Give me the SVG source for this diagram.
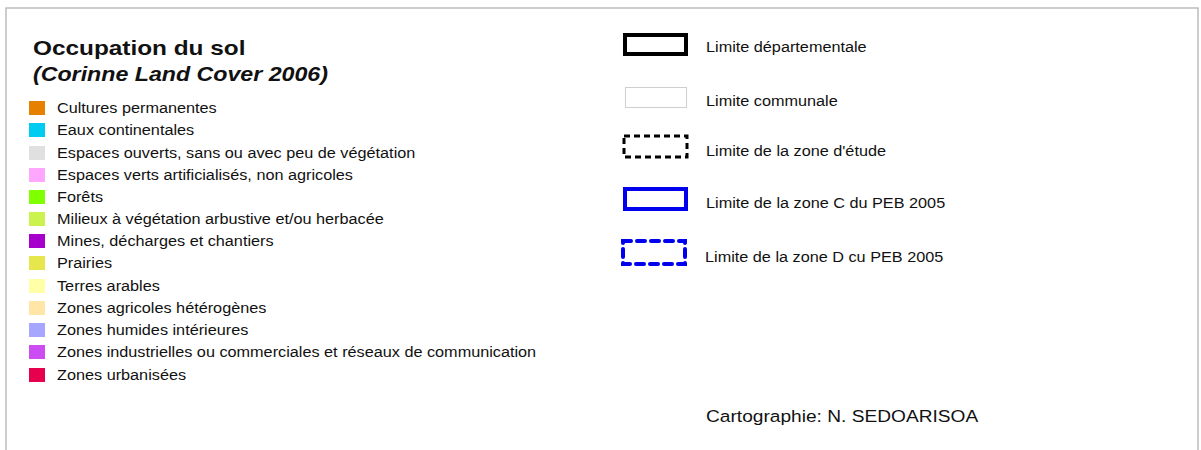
<svg xmlns="http://www.w3.org/2000/svg" width="1201" height="450" viewBox="0 0 1201 450">
<style>
text{font-family:"Liberation Sans",Arial,sans-serif;fill:#111}
.it{font-size:14px}
.lg{font-size:14px}
.sw{stroke:none}
</style>
<rect x="0" y="0" width="1201" height="450" fill="#fff"/>
<rect x="6" y="8" width="1192" height="460" fill="#fff" stroke="#bdbdbd" stroke-width="1.5"/>
<g id="title">
<text transform="matrix(1.16,0,0,1,33,55)" style="font-size:21px;font-weight:bold">Occupation du sol</text>
<text transform="matrix(1.16,0,0,1,33,81)" style="font-size:20px;font-weight:bold;font-style:italic">(Corinne Land Cover 2006)</text>
</g>
<g id="landcover">
<g id="lc1"><rect class="sw" x="29" y="101" width="16" height="14" fill="#e68000"/><text class="it" transform="matrix(1.16,0,0,1,57,113)">Cultures permanentes</text></g>
<g id="lc2"><rect class="sw" x="29" y="123" width="16" height="14" fill="#00ccf2"/><text class="it" transform="matrix(1.16,0,0,1,57,135)">Eaux continentales</text></g>
<g id="lc3"><rect class="sw" x="29" y="146" width="16" height="14" fill="#e0e0e0"/><text class="it" transform="matrix(1.16,0,0,1,57,158)">Espaces ouverts, sans ou avec peu de végétation</text></g>
<g id="lc4"><rect class="sw" x="29" y="168" width="16" height="14" fill="#ffa6ff"/><text class="it" transform="matrix(1.16,0,0,1,57,180)">Espaces verts artificialisés, non agricoles</text></g>
<g id="lc5"><rect class="sw" x="29" y="190" width="16" height="14" fill="#80ff00"/><text class="it" transform="matrix(1.16,0,0,1,57,202)">Forêts</text></g>
<g id="lc6"><rect class="sw" x="29" y="212" width="16" height="14" fill="#ccf24d"/><text class="it" transform="matrix(1.16,0,0,1,57,224)">Milieux à végétation arbustive et/ou herbacée</text></g>
<g id="lc7"><rect class="sw" x="29" y="234" width="16" height="14" fill="#a600cc"/><text class="it" transform="matrix(1.16,0,0,1,57,246)">Mines, décharges et chantiers</text></g>
<g id="lc8"><rect class="sw" x="29" y="256" width="16" height="14" fill="#e6e64d"/><text class="it" transform="matrix(1.16,0,0,1,57,268)">Prairies</text></g>
<g id="lc9"><rect class="sw" x="29" y="279" width="16" height="14" fill="#ffffa8"/><text class="it" transform="matrix(1.16,0,0,1,57,291)">Terres arables</text></g>
<g id="lc10"><rect class="sw" x="29" y="301" width="16" height="14" fill="#ffe6a6"/><text class="it" transform="matrix(1.16,0,0,1,57,313)">Zones agricoles hétérogènes</text></g>
<g id="lc11"><rect class="sw" x="29" y="323" width="16" height="14" fill="#a6a6ff"/><text class="it" transform="matrix(1.16,0,0,1,57,335)">Zones humides intérieures</text></g>
<g id="lc12"><rect class="sw" x="29" y="345" width="16" height="14" fill="#cc4df2"/><text class="it" transform="matrix(1.16,0,0,1,57,357)">Zones industrielles ou commerciales et réseaux de communication</text></g>
<g id="lc13"><rect class="sw" x="29" y="368" width="16" height="14" fill="#e6004d"/><text class="it" transform="matrix(1.16,0,0,1,57,380)">Zones urbanisées</text></g>
</g>
<g id="limits">
<g id="lim1"><rect x="625" y="35" width="61" height="19" fill="none" stroke="#000" stroke-width="4"/><text class="lg" transform="matrix(1.16,0,0,1,706,52)">Limite départementale</text></g>
<g id="lim2"><rect x="625.5" y="87.5" width="61" height="20" fill="none" stroke="#cfcfcf" stroke-width="1"/><text class="lg" transform="matrix(1.16,0,0,1,706,106)">Limite communale</text></g>
<g id="lim3"><rect x="624" y="136" width="63" height="21" fill="none" stroke="#000" stroke-width="3" stroke-dasharray="6,4"/><text class="lg" transform="matrix(1.16,0,0,1,706,156)">Limite de la zone d'étude</text></g>
<g id="lim4"><rect x="625" y="189" width="61" height="20" fill="none" stroke="#0000ee" stroke-width="4"/><text class="lg" transform="matrix(1.16,0,0,1,706,208)">Limite de la zone C du PEB 2005</text></g>
<g id="lim5"><rect x="623" y="241" width="62" height="23" fill="none" stroke="#0000ee" stroke-width="4" stroke-dasharray="8,6" stroke-linecap="round"/><text class="lg" transform="matrix(1.16,0,0,1,705,262)">Limite de la zone D cu PEB 2005</text></g>
</g>
<g id="credit"><text transform="matrix(1.16,0,0,1,706,422)" style="font-size:16.5px">Cartographie: N. SEDOARISOA</text></g>
</svg>
